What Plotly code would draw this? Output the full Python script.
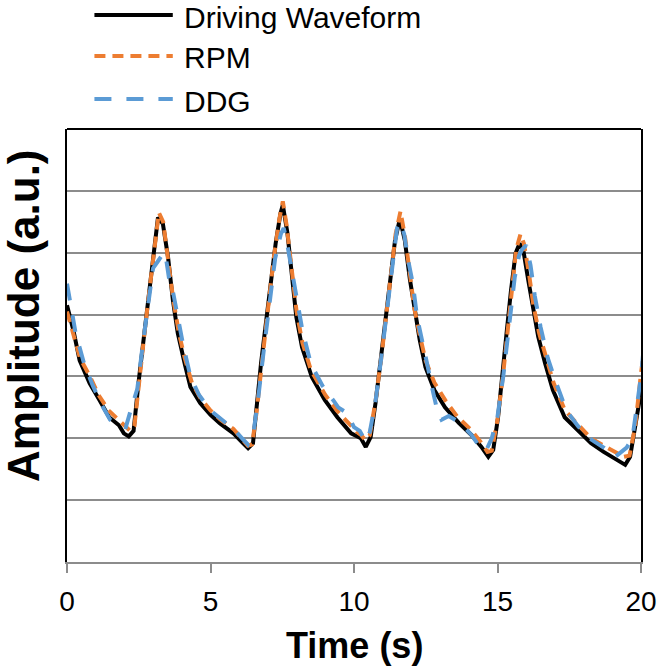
import plotly.graph_objects as go

# ---- data ----
drive_t = [0.0, 0.22, 0.44, 0.79, 1.13, 1.47, 1.81, 1.98, 2.15, 2.32, 2.49, 2.66, 2.83, 3.0, 3.17, 3.34,
           3.52, 3.69, 3.86, 4.10, 4.30, 4.64, 5.0, 5.33, 5.80, 6.14, 6.31, 6.48, 6.59, 6.76, 6.93, 7.10,
           7.27, 7.44, 7.52, 7.68, 7.82, 7.99, 8.19, 8.53, 8.98, 9.42, 9.90, 10.10, 10.24, 10.41, 10.58,
           10.75, 10.92, 11.09, 11.26, 11.43, 11.60, 11.77, 11.95, 12.12, 12.29, 12.49, 12.80, 13.17,
           13.65, 14.10, 14.44, 14.68, 14.85, 15.02, 15.15, 15.32, 15.47, 15.63, 15.77, 15.90, 16.07,
           16.25, 16.42, 16.66, 16.93, 17.34, 17.78, 18.26, 18.70, 19.15, 19.45, 19.62, 19.80, 19.97, 20.1]
drive_v = [4.15, 3.75, 3.26, 2.89, 2.62, 2.34, 2.21, 2.08, 2.03, 2.12, 2.89, 3.59, 4.28, 4.93, 5.57, 5.47,
           4.93, 4.23, 3.70, 3.21, 2.83, 2.57, 2.38, 2.24, 2.08, 1.92, 1.84, 1.92, 2.46, 3.21, 3.86, 4.51,
           5.15, 5.64, 5.77, 5.32, 4.67, 3.96, 3.47, 2.99, 2.62, 2.34, 2.08, 2.03, 2.00, 1.86, 2.02,
           2.57, 3.21, 3.86, 4.51, 5.20, 5.55, 5.20, 4.56, 4.02, 3.59, 3.15, 2.78, 2.50,
           2.25, 2.05, 1.86, 1.70, 1.81, 2.34, 2.99, 3.72, 4.39, 4.99, 5.15, 5.04, 4.56,
           4.07, 3.64, 3.21, 2.78, 2.34, 2.13, 1.92, 1.78, 1.65, 1.57, 1.70, 2.25, 2.67, 3.0]

rpm_t = [0.0, 0.2, 0.45, 0.8, 1.1, 1.45, 1.8, 2.0, 2.2, 2.35, 2.5, 2.7, 2.9, 3.05, 3.2, 3.35, 3.5, 3.7,
         3.9, 4.1, 4.35, 4.65, 5.0, 5.35, 5.8, 6.1, 6.3, 6.45, 6.6, 6.8, 7.0, 7.2, 7.4, 7.52, 7.65, 7.8,
         8.0, 8.2, 8.5, 9.0, 9.4, 9.9, 10.1, 10.25, 10.4, 10.55, 10.75, 10.95, 11.1, 11.3, 11.45, 11.62,
         11.78, 11.95, 12.1, 12.3, 12.5, 12.8, 13.2, 13.6, 14.05, 14.4, 14.65, 14.8, 15.0, 15.2, 15.35,
         15.5, 15.65, 15.8, 15.92, 16.1, 16.25, 16.45, 16.7, 16.95, 17.35, 17.8, 18.25, 18.7, 19.1,
         19.4, 19.6, 19.8, 20.0, 20.1]
rpm_v = [4.05, 3.7, 3.3, 3.0, 2.7, 2.45, 2.3, 2.2, 2.12, 2.2, 2.9, 3.7, 4.5, 5.1, 5.65, 5.5, 4.95, 4.25,
         3.7, 3.3, 2.9, 2.65, 2.45, 2.3, 2.15, 1.98, 1.88, 1.9, 2.4, 3.25, 4.1, 4.9, 5.55, 5.83, 5.45, 4.8,
         4.05, 3.55, 3.1, 2.7, 2.45, 2.2, 2.1, 2.05, 1.97, 2.05, 2.6, 3.3, 3.9, 4.6, 5.3, 5.67,
         5.25, 4.65, 4.1, 3.65, 3.25, 2.9, 2.6, 2.35, 2.15, 1.95, 1.78, 1.8, 2.3, 3.05, 3.75,
         4.5, 5.05, 5.3, 5.15, 4.65, 4.15, 3.7, 3.3, 2.9, 2.45, 2.22, 2.0, 1.88, 1.78,
         1.7, 1.72, 2.2, 3.05, 3.4]

ddg_t = [0.0, 0.1, 0.3, 0.6, 0.9, 1.2, 1.5, 1.8, 2.05, 2.2, 2.45, 2.65, 2.85, 3.0, 3.15, 3.3, 3.42, 3.55,
         3.7, 3.85, 4.05, 4.3, 4.6, 5.0, 5.4, 5.8, 6.1, 6.3, 6.5, 6.65, 6.85, 7.05, 7.25, 7.45, 7.55, 7.65,
         7.8, 8.0, 8.2, 8.5, 8.9, 9.3, 9.45, 9.75, 10.0, 10.2, 10.4, 10.55, 10.75, 10.95, 11.15, 11.35,
         11.5, 11.6, 11.75, 11.9, 12.05, 12.2, 12.35, 12.55, 12.73, 12.9, 13.05, 13.3, 13.7, 14.1, 14.4,
         14.6, 14.8, 15.0, 15.2, 15.4, 15.6, 15.75, 15.85, 16.0, 16.15, 16.3, 16.5, 16.75, 17.0, 17.4,
         17.8, 18.2, 18.7, 19.1, 19.35, 19.5, 19.7, 19.9, 20.0, 20.1]
ddg_v = [4.5, 4.2, 3.7, 3.2, 2.85, 2.55, 2.3, 2.2, 2.18, 2.42, 2.8, 3.55, 4.3, 4.75, 4.85, 4.95, 5.0, 4.6,
         4.35, 3.95, 3.5, 3.0, 2.7, 2.45, 2.3, 2.15, 2.0, 1.9, 2.1, 2.6, 3.4, 4.2, 4.9, 5.3, 5.4, 5.2,
         4.8, 4.2, 3.75, 3.2, 2.85, 2.6, 2.5, 2.41, 2.18, 2.12, 1.95, 2.1, 2.6, 3.3, 4.1, 4.9,
         5.4, 5.5, 5.3, 4.85, 4.5, 3.95, 3.6, 3.2, 2.8, 2.45, 2.3, 2.36, 2.25, 2.05, 1.85,
         1.8, 2.0, 2.35, 3.0, 3.8, 4.6, 4.95, 5.05, 5.12, 4.8, 4.3, 3.8, 3.3, 2.95, 2.45,
         2.2, 2.0, 1.85, 1.7, 1.8, 1.85, 2.0, 2.6, 3.0, 3.5]

x_ticks = [0, 5, 10, 15, 20]
legend_names = ["Driving Waveform", "RPM", "DDG"]

FONT = "Arial, Liberation Sans, sans-serif"
BLACK = "#000000"
ORANGE = "#ED7D31"
BLUE = "#5B9BD5"

fig = go.Figure()
fig.add_trace(go.Scatter(x=drive_t, y=drive_v, mode="lines", name=legend_names[0],
                         line=dict(color=BLACK, width=4)))
fig.add_trace(go.Scatter(x=rpm_t, y=rpm_v, mode="lines", name=legend_names[1],
                         line=dict(color=ORANGE, width=4, dash="11px,7px")))
fig.add_trace(go.Scatter(x=ddg_t, y=ddg_v, mode="lines", name=legend_names[2],
                         line=dict(color=BLUE, width=4, dash="17px,15px")))

W, H = 669, 666
L, R, T, B = 67, 16, 129, 104
ph = H - T - B
pw = W - L - R

def py(p):
    return (H - B - p) / ph

def px(p):
    return (p - L) / pw

shapes = [dict(type="line", xref="paper", yref="paper", x0=0, x1=1, y0=1, y1=1,
               line=dict(color=BLACK, width=2))]
annotations = []
legend_rows = [15, 56, 99]
legend_styles = [dict(color=BLACK, width=4),
                 dict(color=ORANGE, width=4, dash="11px,7px"),
                 dict(color=BLUE, width=4, dash="17px,15px")]
for name, row, st in zip(legend_names, legend_rows, legend_styles):
    shapes.append(dict(type="line", xref="paper", yref="paper", x0=px(95), x1=px(175),
                       y0=py(row), y1=py(row), line=st))
    annotations.append(dict(xref="paper", yref="paper", x=px(184), y=py(row + 2), text=name,
                            showarrow=False, xanchor="left", yanchor="middle",
                            font=dict(family=FONT, size=30, color=BLACK)))

annotations.append(dict(xref="paper", yref="paper", x=0.5, y=py(645), text="<b>Time (s)</b>",
                        showarrow=False, xanchor="center", yanchor="middle",
                        font=dict(family=FONT, size=36, color=BLACK)))
annotations.append(dict(xref="paper", yref="paper", x=px(22), y=py(316), text="<b>Amplitude (a.u.)</b>",
                        showarrow=False, xanchor="center", yanchor="middle", textangle=-90,
                        font=dict(family=FONT, size=44, color=BLACK)))

fig.update_layout(
    width=W, height=H,
    margin=dict(l=L, r=R, t=T, b=B, pad=0),
    paper_bgcolor="white", plot_bgcolor="white",
    showlegend=False,
    shapes=shapes, annotations=annotations,
    xaxis=dict(range=[0, 20], tickvals=x_ticks, ticktext=[str(v) for v in x_ticks],
               showgrid=False, zeroline=False, showline=True, linecolor="#8c8c8c", linewidth=2,
               ticks="outside", ticklen=9, tickwidth=2, tickcolor="#8c8c8c",
               ticklabelstandoff=4,
               tickfont=dict(family=FONT, size=28, color=BLACK)),
    yaxis=dict(range=[0, 7], dtick=1, showticklabels=False, showgrid=True,
               gridcolor="#8c8c8c", gridwidth=2, zeroline=False,
               showline=True, linecolor=BLACK, linewidth=2, mirror=True, ticks=""),
)

fig.write_html("out.html", config={"displayModeBar": False},
               post_script="document.body.style.margin='0';document.body.style.overflow='hidden';")
